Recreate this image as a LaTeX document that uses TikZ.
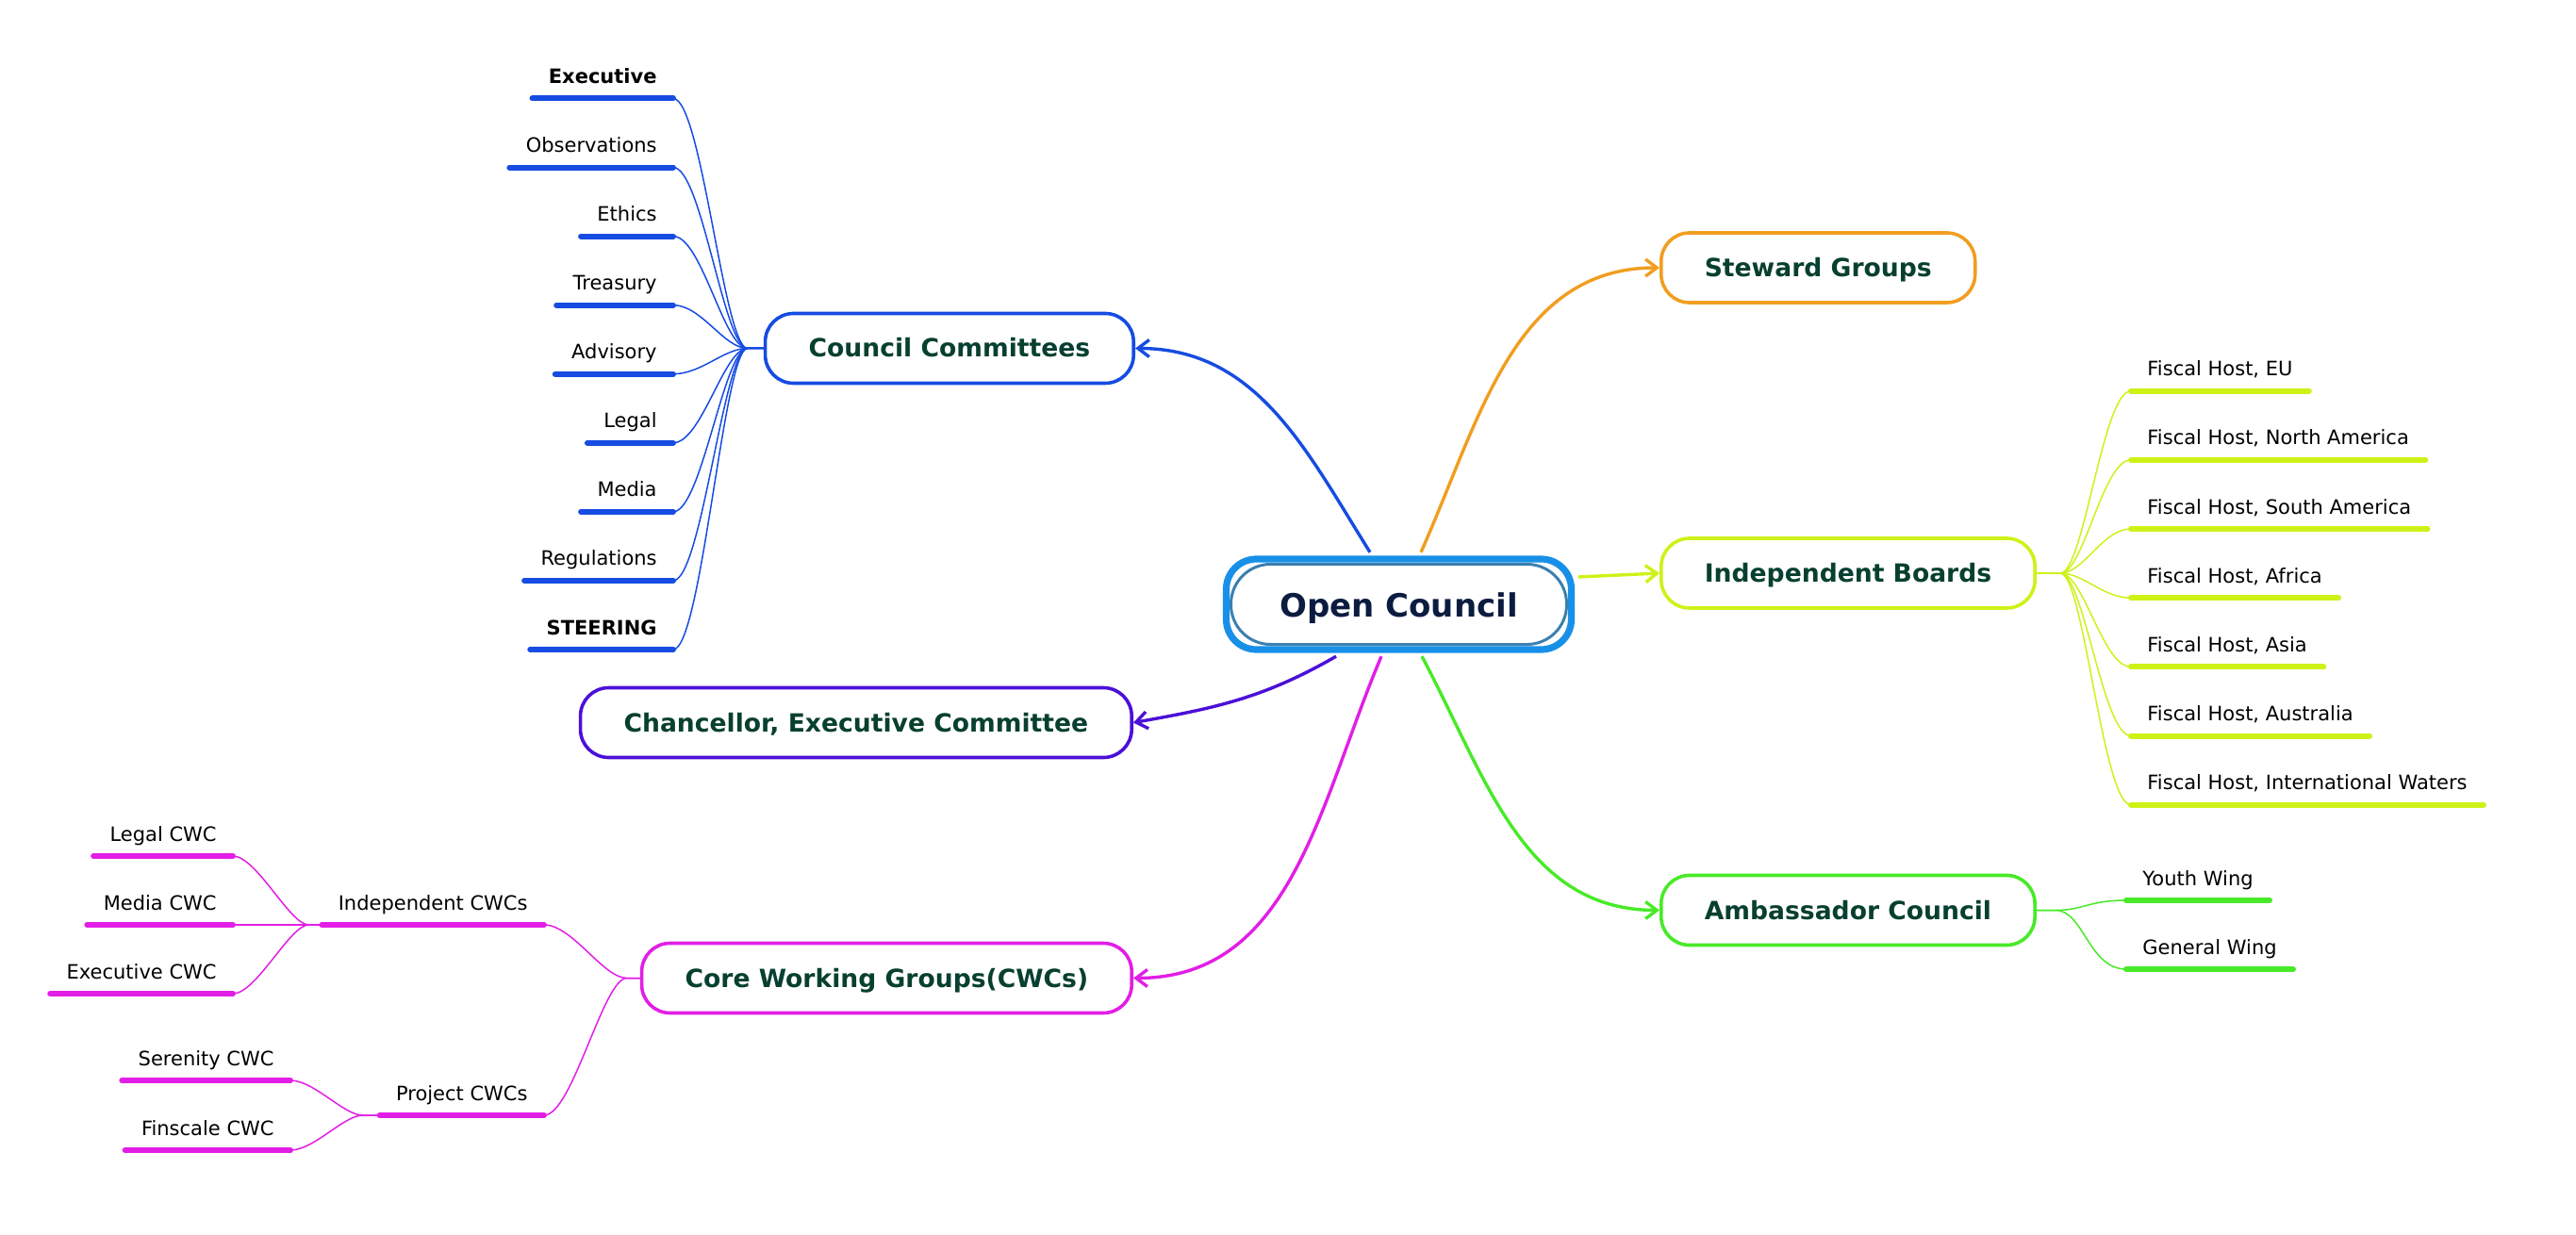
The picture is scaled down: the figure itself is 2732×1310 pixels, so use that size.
\documentclass[tikz,border=0pt]{standalone}
\usepackage{fontspec}
\setmainfont{DejaVu Sans}
\usetikzlibrary{arrows.meta}

\definecolor{ocblue}{RGB}{24,144,232}
\definecolor{ocinner}{RGB}{58,128,176}
\definecolor{octext}{RGB}{12,28,64}
\definecolor{nodetext}{RGB}{8,64,48}
\definecolor{ccblue}{RGB}{22,76,226}
\definecolor{chpurple}{RGB}{76,16,216}
\definecolor{cwmagenta}{RGB}{226,30,230}
\definecolor{sgorange}{RGB}{240,158,32}
\definecolor{iblime}{RGB}{206,242,24}
\definecolor{acgreen}{RGB}{72,234,40}

\tikzset{
	branch/.style={draw=#1, line width=1.8pt, rounded corners=15pt, fill=white, text=nodetext,
		font=\fontsize{13.3}{16}\bfseries, inner xsep=23pt, minimum height=37pt,
		text height=11pt, text depth=1.5pt},
	leaf/.style={font=\fontsize{10.5}{12}\selectfont, inner xsep=8.5pt, inner ysep=0pt,
		text height=8pt, text depth=7.75pt},
	uline/.style={draw=#1, line width=3pt, line cap=round},
	twig/.style={draw=#1, line width=0.75pt},
	limb/.style={draw=#1, line width=1.7pt, -{Straight Barb[length=6pt,width=9pt]}},
}

\begin{document}
\begin{tikzpicture}[x=0.5pt, y=-0.5pt]
	\useasboundingbox (0,0) rectangle (2732,1310);

	% centre
	\node[draw=ocblue, line width=3.6pt, rounded corners=16pt, minimum width=183pt, minimum height=48pt] (ocb) at (1483.5,641) {};
	\node[draw=ocinner, line width=1.5pt, rounded corners=21pt, minimum width=178pt, minimum height=42.5pt,
		text=octext, font=\fontsize{17}{20}\bfseries, text height=13pt, text depth=0pt] (oc) at (1483.5,641) {Open Council};

	% main branches
	\node[branch=ccblue, anchor=east] (cc) at (1204,369.5) {Council Committees};
	\node[branch=chpurple, anchor=east] (chan) at (1202,766.5) {Chancellor, Executive Committee};
	\node[branch=cwmagenta, anchor=east] (cwg) at (1202,1037.5) {Core Working Groups(CWCs)};
	\node[branch=sgorange, anchor=west] (sg) at (1760,284) {Steward Groups};
	\node[branch=iblime, anchor=west] (ib) at (1760,608) {Independent Boards};
	\node[branch=acgreen, anchor=west] (ac) at (1760,965.5) {Ambassador Council};

	\draw[limb=ccblue] ([xshift=-15.25pt,yshift=1.8pt]ocb.north) to[out=122,in=0] (cc.east);
	\draw[limb=sgorange] ([xshift=11.75pt,yshift=1.8pt]ocb.north) to[out=66,in=180] (sg.west);
	\draw[limb=iblime] ([xshift=1.8pt,yshift=14.5pt]ocb.east) -- (ib.west);
	\draw[limb=acgreen] ([xshift=12.25pt,yshift=-1.8pt]ocb.south) to[out=-62,in=180] (ac.west);
	\draw[limb=cwmagenta] ([xshift=-9.25pt,yshift=-1.8pt]ocb.south) to[out=-113,in=0] (cwg.east);
	\draw[limb=chpurple] ([xshift=-33.25pt,yshift=-1.8pt]ocb.south) to[out=210,in=10] (chan.east);

	% committees
	\foreach \n/\y/\t in {exe/104.5/\textbf{Executive}, obs/177.55/Observations, eth/250.6/Ethics,
		tre/323.65/Treasury, adv/396.7/Advisory, leg/469.75/Legal, med/542.8/Media,
		reg/615.85/Regulations, ste/688.9/\textbf{STEERING}}{
		\node[leaf, anchor=south east] (\n) at (714,\y) {\t};
		\draw[uline=ccblue] (\n.south west) -- (\n.south east);
		\draw[twig=ccblue] (cc.west) -- ++(-17,0) .. controls +(-25,0) and +(30,0) .. (\n.south east);
	}

	% boards
	\foreach \n/\y/\t in {eu/414.7/{Fiscal Host, EU}, nam/487.8/{Fiscal Host, North America},
		sam/561/{Fiscal Host, South America}, afr/634.2/{Fiscal Host, Africa},
		asi/707.4/{Fiscal Host, Asia}, aus/780.5/{Fiscal Host, Australia},
		iw/853.7/{Fiscal Host, International Waters}}{
		\node[leaf, anchor=south west] (\n) at (2260,\y) {\t};
		\draw[uline=iblime] (\n.south west) -- (\n.south east);
		\draw[twig=iblime] (ib.east) -- ++(25,0) .. controls +(25,0) and +(-30,0) .. (\n.south west);
	}

	% ambassadors
	\foreach \n/\y/\t in {yw/955/Youth Wing, gw/1028/General Wing}{
		\node[leaf, anchor=south west] (\n) at (2255,\y) {\t};
		\draw[uline=acgreen] (\n.south west) -- (\n.south east);
		\draw[twig=acgreen] (ac.east) -- ++(20,0) .. controls +(30,0) and +(-40,0) .. (\n.south west);
	}

	% working groups
	\node[leaf, anchor=south east] (icwc) at (577,981) {Independent CWCs};
	\node[leaf, anchor=south east] (pcwc) at (577,1183) {Project CWCs};
	\foreach \n in {icwc, pcwc}{
		\draw[uline=cwmagenta] (\n.south west) -- (\n.south east);
		\draw[twig=cwmagenta] (cwg.west) -- ++(-14,0) .. controls +(-25,0) and +(30,0) .. (\n.south east);
	}
	\foreach \n/\y/\t in {lcwc/908/Legal CWC, mcwc/981/Media CWC, ecwc/1054/Executive CWC}{
		\node[leaf, anchor=south east] (\n) at (247,\y) {\t};
		\draw[uline=cwmagenta] (\n.south west) -- (\n.south east);
		\draw[twig=cwmagenta] (icwc.south west) -- ++(-14,0) .. controls +(-20,0) and +(25,0) .. (\n.south east);
	}
	\foreach \n/\y/\t in {scwc/1146/Serenity CWC, fcwc/1220/Finscale CWC}{
		\node[leaf, anchor=south east] (\n) at (308,\y) {\t};
		\draw[uline=cwmagenta] (\n.south west) -- (\n.south east);
		\draw[twig=cwmagenta] (pcwc.south west) -- ++(-18,0) .. controls +(-20,0) and +(25,0) .. (\n.south east);
	}
\end{tikzpicture}
\end{document}
